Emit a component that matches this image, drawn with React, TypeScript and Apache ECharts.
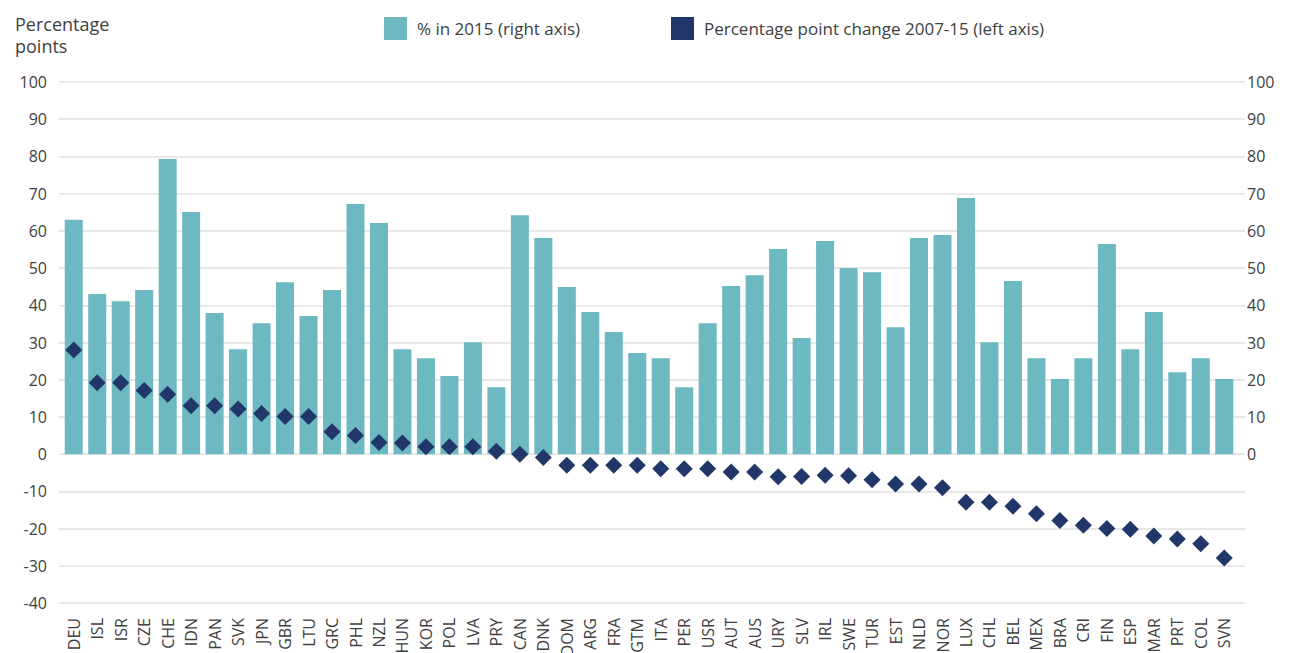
import React, { useEffect, useRef } from "react";
import * as echarts from "echarts";

const categories = [
  "DEU", "ISL", "ISR", "CZE", "CHE", "IDN", "PAN", "SVK", "JPN", "GBR",
  "LTU", "GRC", "PHL", "NZL", "HUN", "KOR", "POL", "LVA", "PRY", "CAN",
  "DNK", "DOM", "ARG", "FRA", "GTM", "ITA", "PER", "USR", "AUT", "AUS",
  "URY", "SLV", "IRL", "SWE", "TUR", "EST", "NLD", "NOR", "LUX", "CHL",
  "BEL", "MEX", "BRA", "CRI", "FIN", "ESP", "MAR", "PRT", "COL", "SVN",
];

// % in 2015 (right axis)
const share2015 = [
  63.0, 43.0, 41.1, 44.1, 79.3, 65.1, 37.9, 28.2, 35.2, 46.2,
  37.1, 44.1, 67.2, 62.1, 28.2, 25.8, 21.0, 30.1, 18.0, 64.2,
  58.1, 44.9, 38.2, 32.8, 27.2, 25.8, 18.0, 35.2, 45.2, 48.1,
  55.1, 31.2, 57.3, 50.0, 48.9, 34.1, 58.1, 58.9, 68.8, 30.1,
  46.5, 25.8, 20.2, 25.8, 56.5, 28.2, 38.2, 22.0, 25.8, 20.2,
];

// Percentage point change 2007-15 (left axis)
const change0715 = [
  28.0, 19.2, 19.2, 17.1, 16.1, 13.0, 13.0, 12.1, 10.9, 10.1,
  10.1, 6.0, 5.0, 3.1, 3.0, 2.0, 2.0, 2.0, 0.8, 0.0,
  -0.9, -3.0, -3.0, -3.0, -3.0, -3.9, -3.9, -3.9, -4.8, -4.8,
  -6.1, -6.0, -5.7, -5.8, -6.9, -8.0, -8.0, -9.0, -12.9, -12.9,
  -14.0, -16.0, -17.8, -19.1, -20.0, -20.2, -22.0, -22.8, -24.1, -27.9,
];

const seriesNames = ["% in 2015 (right axis)", "Percentage point change 2007-15 (left axis)"];
const axisTitle = "Percentage\npoints";
const axisMin = -40;
const axisMax = 100;
const axisInterval = 10;

const FONT = "'Open Sans', 'Noto Sans', sans-serif";
const TEXT = "#404040";
const TEAL = "#6cb9c1";
const NAVY = "#223769";

export default function App() {
  const ref = useRef<HTMLDivElement>(null);
  useEffect(() => {
    if (!ref.current) return;
    const chart = echarts.init(ref.current, null, { renderer: "svg" });
    const top = 82;
    const bottom = 653 - 603;
    chart.setOption({
      animation: false,
      textStyle: { fontFamily: FONT, color: TEXT },
      title: {
        text: axisTitle,
        left: 10,
        top: 8,
        textStyle: { fontFamily: FONT, fontSize: 18, fontWeight: "normal", color: TEXT, lineHeight: 22 },
      },
      legend: [
        {
          data: [seriesNames[0]],
          left: 379,
          top: 12,
          itemWidth: 23,
          itemHeight: 23,
          icon: "rect",
          itemStyle: { opacity: 1 },
          textStyle: { fontFamily: FONT, fontSize: 17, color: TEXT, padding: [0, 0, 0, 5] },
        },
        {
          data: [seriesNames[1]],
          left: 666,
          top: 12,
          itemWidth: 23,
          itemHeight: 23,
          icon: "rect",
          itemStyle: { opacity: 1 },
          textStyle: { fontFamily: FONT, fontSize: 17, color: TEXT, padding: [0, 0, 0, 5] },
        },
      ],
      grid: [
        { left: 59, right: 1292 - 1245, top, bottom, containLabel: false, outerBoundsMode: "none" },
        { left: 62, right: 1292 - 1236, top, bottom, containLabel: false, outerBoundsMode: "none" },
      ],
      xAxis: [
        { type: "category", gridIndex: 0, data: categories, show: false },
        {
          type: "category",
          gridIndex: 1,
          data: categories,
          axisLine: { show: false },
          axisTick: { show: false },
          axisLabel: {
            interval: 0,
            rotate: 90,
            margin: 15,
            fontFamily: FONT,
            fontSize: 16,
            color: TEXT,
          },
        },
      ],
      yAxis: [
        {
          type: "value",
          gridIndex: 0,
          position: "left",
          min: axisMin,
          max: axisMax,
          interval: axisInterval,
          axisLine: { show: false },
          axisTick: { show: false },
          splitLine: { show: true, lineStyle: { color: "#e8e8e8", width: 2 } },
          axisLabel: { margin: 12, fontFamily: FONT, fontSize: 16, color: TEXT },
        },
        {
          type: "value",
          gridIndex: 0,
          position: "right",
          min: axisMin,
          max: axisMax,
          interval: axisInterval,
          axisLine: { show: false },
          axisTick: { show: false },
          splitLine: { show: false },
          axisLabel: {
            margin: 2,
            fontFamily: FONT,
            fontSize: 16,
            color: TEXT,
            formatter: (v: number) => (v < 0 ? "" : String(v)),
          },
        },
        {
          type: "value",
          gridIndex: 1,
          min: axisMin,
          max: axisMax,
          interval: axisInterval,
          show: false,
          splitLine: { show: false },
        },
      ],
      series: [
        {
          name: seriesNames[0],
          type: "bar",
          xAxisIndex: 1,
          yAxisIndex: 2,
          data: share2015,
          barWidth: 18,
          itemStyle: { color: TEAL, opacity: 1 },
          z: 2,
        },
        {
          name: seriesNames[1],
          type: "scatter",
          xAxisIndex: 1,
          yAxisIndex: 2,
          data: change0715,
          symbol: "diamond",
          symbolSize: 17,
          itemStyle: { color: NAVY, opacity: 1 },
          z: 3,
        },
      ],
    });
    return () => chart.dispose();
  }, []);
  return (
    <div
      ref={ref}
      style={{ position: "fixed", left: 0, top: 0, width: 1292, height: 653, overflow: "hidden", background: "#fff" }}
    />
  );
}
